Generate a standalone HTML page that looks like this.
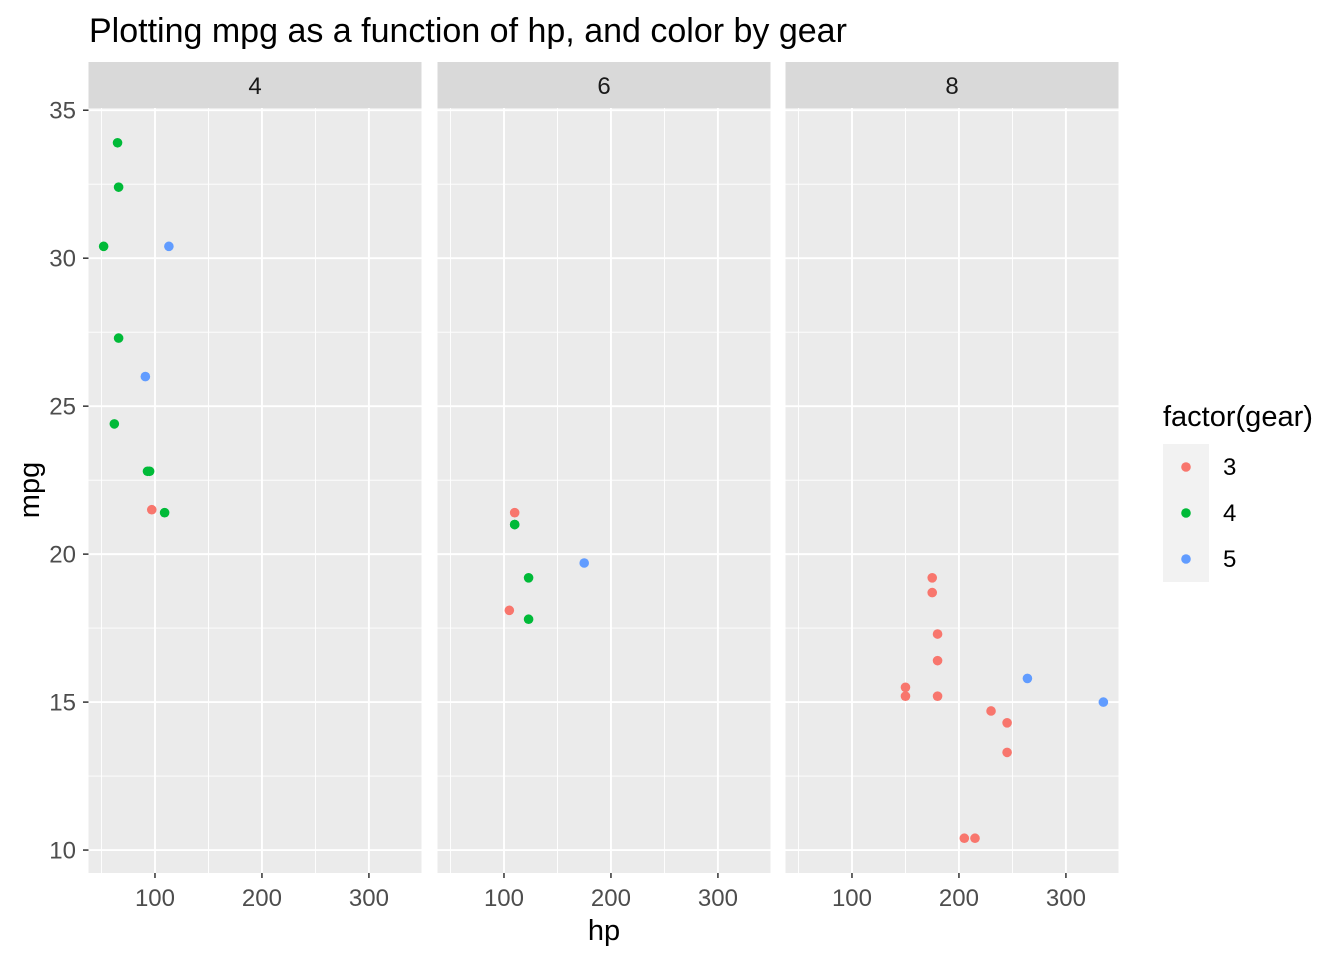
<!DOCTYPE html>
<html><head><meta charset="utf-8"><style>
body{margin:0;background:#fff;}
svg{display:block;font-family:"Liberation Sans",Arial,sans-serif;}
</style></head><body>
<svg id="chart" width="1344" height="960"></svg>
<script>
const facets=["4","6","8"];
const hp4=[93,62,95,66,52,65,97,66,91,113,109];
const mpg4=[22.8,24.4,22.8,32.4,30.4,33.9,21.5,27.3,26.0,30.4,21.4];
const gear4=[4,4,4,4,4,4,3,4,5,5,4];
const hp6=[110,110,110,105,123,123,175];
const mpg6=[21.0,21.0,21.4,18.1,19.2,17.8,19.7];
const gear6=[4,4,3,3,4,4,5];
const hp8=[175,245,180,180,180,205,215,230,150,150,245,175,264,335];
const mpg8=[18.7,14.3,16.4,17.3,15.2,10.4,10.4,14.7,15.5,15.2,13.3,19.2,15.8,15.0];
const gear8=[3,3,3,3,3,3,3,3,3,3,3,3,5,5];
const xTicks=[100,200,300];
const yTicks=[10,15,20,25,30,35];
const gears=[3,4,5];
const colors={3:"#F8766D",4:"#00BA38",5:"#619CFF"};

const NS="http://www.w3.org/2000/svg";
const svg=document.getElementById("chart");
function el(tag,attrs,parent){const e=document.createElementNS(NS,tag);for(const k in attrs)e.setAttribute(k,attrs[k]);(parent||svg).appendChild(e);return e;}
const panelLefts=[88.5,437.5,785.5];
const panelW=333, pTop=108, pBottom=873;
const xmin=37.85,xmax=349.15,ymin=9.225,ymax=35.075;
const sx=(v,i)=>panelLefts[i]+(v-xmin)/(xmax-xmin)*panelW;
const sy=v=>pBottom-(v-ymin)/(ymax-ymin)*(pBottom-pTop);

const t=el("text",{x:89,y:42,"font-size":"34",fill:"#000"});


t.textContent="Plotting mpg as a function of hp, and color by gear";

const data=[[hp4,mpg4,gear4],[hp6,mpg6,gear6],[hp8,mpg8,gear8]];
facets.forEach((f,i)=>{
  const L=panelLefts[i];
  const g=el("g",{});
  
  
  el("rect",{x:L,y:pTop,width:panelW,height:pBottom-pTop,fill:"#EBEBEB"},g);
  const s=el("rect",{x:L,y:62,width:panelW,height:46,fill:"#D9D9D9"},g);
  
  
  const st=el("text",{x:L+panelW/2,y:94,"font-size":"24","text-anchor":"middle",fill:"#1A1A1A"},g);
  st.textContent=f;
  for(let v=50;v<=350;v+=100){const x=sx(v,i);if(x>L&&x<L+panelW)el("line",{x1:x,x2:x,y1:pTop,y2:pBottom,stroke:"#fff","stroke-width":0.9},g);}
  for(let v=12.5;v<=32.5;v+=5){el("line",{x1:L,x2:L+panelW,y1:sy(v),y2:sy(v),stroke:"#fff","stroke-width":0.9},g);}
  xTicks.forEach(v=>{const x=sx(v,i);el("line",{x1:x,x2:x,y1:pTop,y2:pBottom,stroke:"#fff","stroke-width":1.9},g);
    el("line",{x1:x,x2:x,y1:pBottom,y2:pBottom+5,stroke:"#333","stroke-width":1.5},g);
    const tl=el("text",{x:x,y:906,"font-size":"24","text-anchor":"middle",fill:"#4D4D4D"},g);
    
    
    tl.textContent=v;});
  yTicks.forEach(v=>{el("line",{x1:L,x2:L+panelW,y1:sy(v),y2:sy(v),stroke:"#fff","stroke-width":1.9},g);});
  const [hx,my,gr]=data[i];
  hx.forEach((h,j)=>{const c=el("circle",{cx:sx(h,i),cy:sy(my[j]),r:4.8,fill:colors[gr[j]]},g);
    
    });
});
yTicks.forEach(v=>{el("line",{x1:83,x2:88.5,y1:sy(v),y2:sy(v),stroke:"#333","stroke-width":1.5});
  const tl=el("text",{x:76,y:sy(v)+8.5,"font-size":"24","text-anchor":"end",fill:"#4D4D4D"});
  
  
  tl.textContent=v;});
const xt=el("text",{x:604,y:940,"font-size":"29","text-anchor":"middle",fill:"#000"});


xt.textContent="hp";
const yt=el("text",{x:39,y:490,"font-size":"29","text-anchor":"middle",fill:"#000",transform:"rotate(-90 39 490)"});


yt.textContent="mpg";
const lg=el("g",{});


const ltt=el("text",{x:1163,y:426,"font-size":"29",fill:"#000"},lg);
ltt.textContent="factor(gear)";
gears.forEach((gv,k)=>{const y0=444+k*46;
  const e=el("g",{},lg);
  
  
  el("rect",{x:1163,y:y0,width:46,height:46,fill:"#F2F2F2"},e);
  el("circle",{cx:1186,cy:y0+23,r:4.8,fill:colors[gv]},e);
  const lt=el("text",{x:1223,y:y0+31,"font-size":"24",fill:"#000"},e);
  lt.textContent=gv;});
</script>
</body></html>
